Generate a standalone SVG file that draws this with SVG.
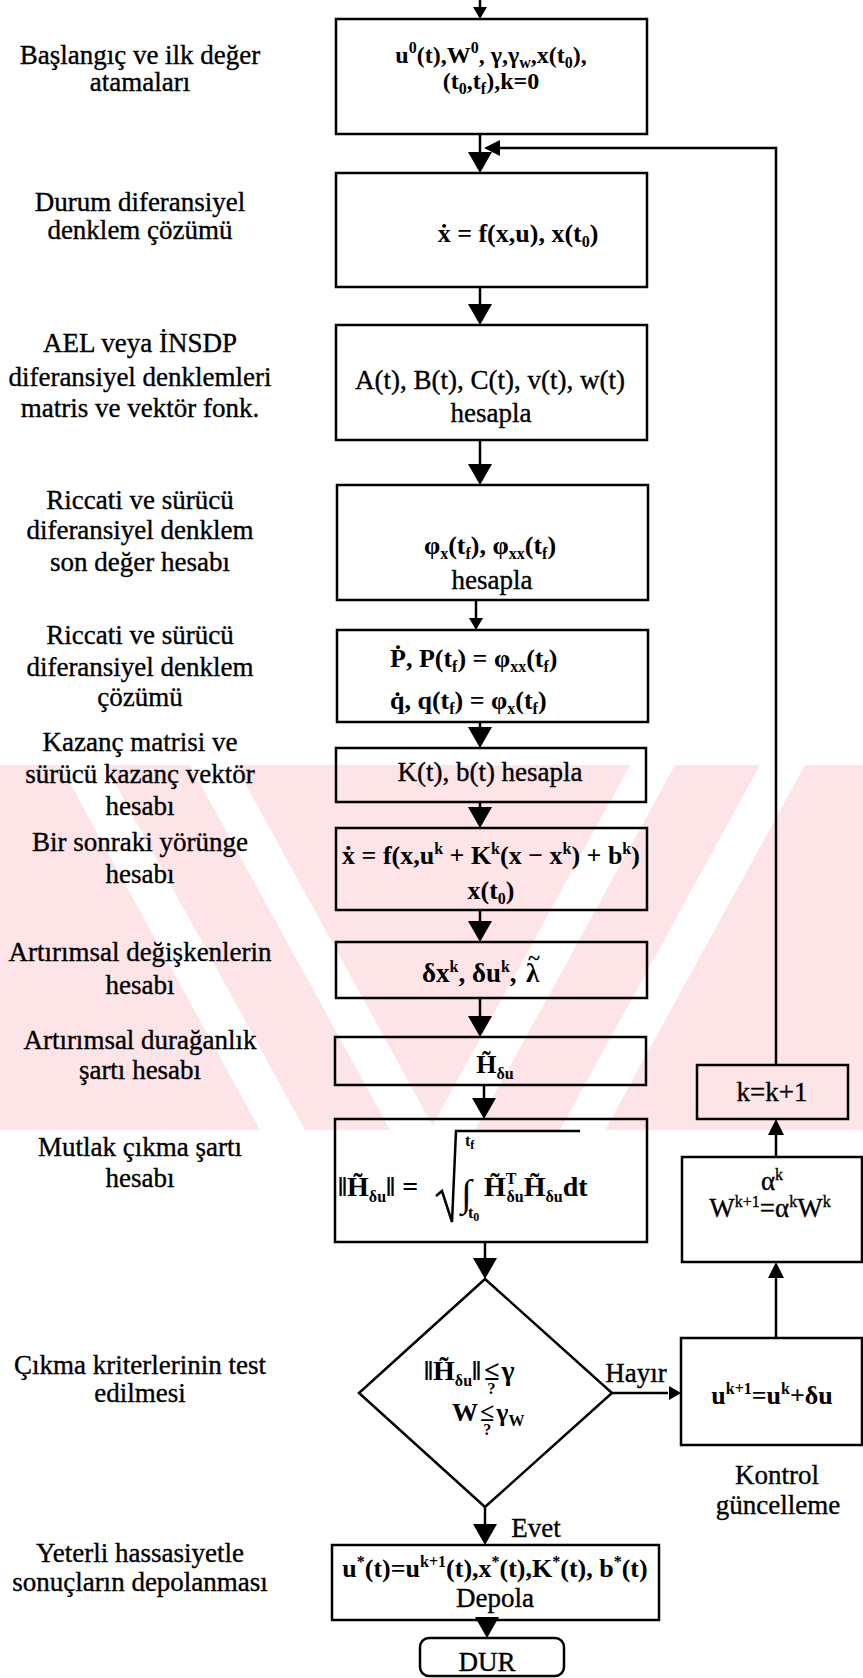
<svg xmlns="http://www.w3.org/2000/svg" width="863" height="1678" viewBox="0 0 863 1678">
<defs>
<style>
text{font-family:"Liberation Serif","Times New Roman",serif;fill:#000}
.lbl{font-size:27px;text-anchor:middle;stroke:#000;stroke-width:0.35}
.t{font-size:27px;text-anchor:middle;stroke:#000;stroke-width:0.35}
.eq{font-size:26px;font-weight:bold;text-anchor:middle}
.st{text-anchor:start}
.s{font-size:16px}
.box{fill:none;stroke:#000;stroke-width:2.5}
.ln{stroke:#000;stroke-width:2.5;fill:none}
.ah{fill:#000}
.wm{fill:#fce4e7}
.wmgap{fill:#fff}
</style>
<path id="ahBig" d="M-12,-21 L12,-21 L0,0 Z"/>
<path id="ahMed" d="M-8,-16 L8,-16 L0,0 Z"/>
<path id="ahSmall" d="M-7,-12 L7,-12 L0,0 Z"/>
<clipPath id="wmClip"><rect x="0" y="765" width="863" height="365"/></clipPath>
</defs>
<rect width="863" height="1678" fill="#fff"/>

<!-- faint background emblem behind the lower-middle steps -->
<g id="watermark" clip-path="url(#wmClip)">
  <rect class="wm" x="0" y="765" width="863" height="365"/>
  <polygon class="wmgap" points="60,765 105,765 305,1130 260,1130"/>
  <polygon class="wmgap" points="190,765 235,765 435,1130 390,1130"/>
  <polygon class="wmgap" points="760,765 805,765 605,1130 560,1130"/>
  <polygon class="wmgap" points="630,765 675,765 475,1130 430,1130"/>
</g>

<!-- connectors -->
<g id="connectors">
  <line class="ln" x1="480" y1="0" x2="480" y2="10"/>
  <use href="#ahSmall" class="ah" x="480" y="19"/>
  <line class="ln" x1="480" y1="134" x2="480" y2="155"/>
  <use href="#ahBig" class="ah" x="480" y="173"/>
  <polyline class="ln" points="776,1065 776,148 498,148"/>
  <use href="#ahMed" class="ah" transform="translate(484,148) rotate(90)"/>
  <line class="ln" x1="480" y1="287" x2="480" y2="306"/>
  <use href="#ahBig" class="ah" x="480" y="325"/>
  <line class="ln" x1="480" y1="440" x2="480" y2="466"/>
  <use href="#ahBig" class="ah" x="480" y="485"/>
  <line class="ln" x1="476" y1="600" x2="476" y2="620"/>
  <use href="#ahSmall" class="ah" x="476" y="630"/>
  <line class="ln" x1="480" y1="722" x2="480" y2="730"/>
  <use href="#ahBig" class="ah" x="480" y="748"/>
  <line class="ln" x1="480" y1="802" x2="480" y2="810"/>
  <use href="#ahBig" class="ah" x="480" y="828"/>
  <line class="ln" x1="480" y1="910" x2="480" y2="924"/>
  <use href="#ahBig" class="ah" x="480" y="942"/>
  <line class="ln" x1="480" y1="998" x2="480" y2="1019"/>
  <use href="#ahBig" class="ah" x="480" y="1037"/>
  <line class="ln" x1="484" y1="1085" x2="484" y2="1101"/>
  <use href="#ahBig" class="ah" x="484" y="1119"/>
  <line class="ln" x1="485" y1="1242" x2="485" y2="1261"/>
  <use href="#ahBig" class="ah" x="485" y="1279"/>
  <line class="ln" x1="612" y1="1393" x2="668" y2="1393"/>
  <use href="#ahSmall" class="ah" transform="translate(681,1393) rotate(-90)"/>
  <line class="ln" x1="776" y1="1338" x2="776" y2="1276"/>
  <use href="#ahMed" class="ah" transform="translate(776,1262) rotate(180)"/>
  <line class="ln" x1="776" y1="1157" x2="776" y2="1133"/>
  <use href="#ahMed" class="ah" transform="translate(776,1119) rotate(180)"/>
  <line class="ln" x1="485" y1="1507" x2="485" y2="1527"/>
  <use href="#ahBig" class="ah" x="485" y="1545"/>
  <line class="ln" x1="487" y1="1620" x2="487" y2="1622"/>
  <use href="#ahBig" class="ah" x="487" y="1638"/>
</g>

<!-- side descriptions -->
<g id="labels">
  <text class="lbl" x="140" y="64">Başlangıç ve ilk değer</text>
  <text class="lbl" x="140" y="91">atamaları</text>
  <text class="lbl" x="140" y="211">Durum diferansiyel</text>
  <text class="lbl" x="140" y="239">denklem çözümü</text>
  <text class="lbl" x="140" y="352">AEL veya İNSDP</text>
  <text class="lbl" x="140" y="386">diferansiyel denklemleri</text>
  <text class="lbl" x="140" y="417">matris ve vektör fonk.</text>
  <text class="lbl" x="140" y="509">Riccati ve sürücü</text>
  <text class="lbl" x="140" y="539">diferansiyel denklem</text>
  <text class="lbl" x="140" y="571">son değer hesabı</text>
  <text class="lbl" x="140" y="644">Riccati ve sürücü</text>
  <text class="lbl" x="140" y="676">diferansiyel denklem</text>
  <text class="lbl" x="140" y="706">çözümü</text>
  <text class="lbl" x="140" y="751">Kazanç matrisi ve</text>
  <text class="lbl" x="140" y="783">sürücü kazanç vektör</text>
  <text class="lbl" x="140" y="815">hesabı</text>
  <text class="lbl" x="140" y="851">Bir sonraki yörünge</text>
  <text class="lbl" x="140" y="883">hesabı</text>
  <text class="lbl" x="140" y="961">Artırımsal değişkenlerin</text>
  <text class="lbl" x="140" y="994">hesabı</text>
  <text class="lbl" x="140" y="1049">Artırımsal durağanlık</text>
  <text class="lbl" x="140" y="1079">şartı hesabı</text>
  <text class="lbl" x="140" y="1156">Mutlak çıkma şartı</text>
  <text class="lbl" x="140" y="1187">hesabı</text>
  <text class="lbl" x="140" y="1374">Çıkma kriterlerinin test</text>
  <text class="lbl" x="140" y="1402">edilmesi</text>
  <text class="lbl" x="140" y="1562">Yeterli hassasiyetle</text>
  <text class="lbl" x="140" y="1591">sonuçların depolanması</text>
  <text class="lbl" x="777" y="1484">Kontrol</text>
  <text class="lbl" x="778" y="1514">güncelleme</text>
  <text class="lbl" x="636" y="1382">Hayır</text>
  <text class="lbl" x="536" y="1537">Evet</text>
</g>

<g id="n-init">
  <rect class="box" x="336" y="19" width="311" height="115"/>
  <text class="eq" style="font-size:24px" x="491" y="63">u<tspan class="s" dy="-10">0</tspan><tspan dy="10">(t),W</tspan><tspan class="s" dy="-10">0</tspan><tspan dy="10">, γ,γ</tspan><tspan class="s" dy="5">w</tspan><tspan dy="-5">,x(t</tspan><tspan class="s" dy="5">0</tspan><tspan dy="-5">),</tspan></text>
  <text class="eq" style="font-size:24px" x="491" y="89">(t<tspan class="s" dy="5">0</tspan><tspan dy="-5">,t</tspan><tspan class="s" dy="5">f</tspan><tspan dy="-5">),k=0</tspan></text>
</g>

<g id="n-state">
  <rect class="box" x="336" y="173" width="311" height="114"/>
  <text class="eq" x="518" y="242">ẋ = f(x,u), x(t<tspan class="s" dy="5">0</tspan><tspan dy="-5">)</tspan></text>
</g>

<g id="n-matrices">
  <rect class="box" x="336" y="325" width="311" height="115"/>
  <text class="t" x="490" y="389">A(t), B(t), C(t), v(t), w(t)</text>
  <text class="t" x="491" y="422">hesapla</text>
</g>

<g id="n-final-value">
  <rect class="box" x="337" y="485" width="311" height="115"/>
  <text class="eq" x="490" y="554">φ<tspan class="s" dy="5">x</tspan><tspan dy="-5">(t</tspan><tspan class="s" dy="5">f</tspan><tspan dy="-5">), φ</tspan><tspan class="s" dy="5">xx</tspan><tspan dy="-5">(t</tspan><tspan class="s" dy="5">f</tspan><tspan dy="-5">)</tspan></text>
  <text class="t" x="492" y="589">hesapla</text>
</g>

<g id="n-riccati">
  <rect class="box" x="337" y="630" width="311" height="92"/>
  <text class="eq st" x="390" y="667">Ṗ, P(t<tspan class="s" dy="5">f</tspan><tspan dy="-5">) = φ</tspan><tspan class="s" dy="5">xx</tspan><tspan dy="-5">(t</tspan><tspan class="s" dy="5">f</tspan><tspan dy="-5">)</tspan></text>
  <text class="eq st" x="390" y="709">q̇, q(t<tspan class="s" dy="5">f</tspan><tspan dy="-5">) = φ</tspan><tspan class="s" dy="5">x</tspan><tspan dy="-5">(t</tspan><tspan class="s" dy="5">f</tspan><tspan dy="-5">)</tspan></text>
</g>

<g id="n-gain">
  <rect class="box" x="336" y="748" width="310" height="54"/>
  <text class="t" x="490" y="781">K(t), b(t) hesapla</text>
</g>

<g id="n-trajectory">
  <rect class="box" x="336" y="828" width="311" height="82"/>
  <text class="eq" x="491" y="864">ẋ = f(x,u<tspan class="s" dy="-10">k</tspan><tspan dy="10"> + K</tspan><tspan class="s" dy="-10">k</tspan><tspan dy="10">(x − x</tspan><tspan class="s" dy="-10">k</tspan><tspan dy="10">) + b</tspan><tspan class="s" dy="-10">k</tspan><tspan dy="10">)</tspan></text>
  <text class="eq" x="491" y="899">x(t<tspan class="s" dy="5">0</tspan><tspan dy="-5">)</tspan></text>
</g>

<g id="n-increments">
  <rect class="box" x="336" y="942" width="311" height="56"/>
  <text class="eq st" style="font-size:27px" x="422" y="982">δx<tspan class="s" dy="-10">k</tspan><tspan dy="10">, δu</tspan><tspan class="s" dy="-10">k</tspan><tspan dy="10">,</tspan><tspan x="526">λ</tspan></text>
  <text class="eq" style="font-size:22px" x="534" y="965">~</text>
</g>

<g id="n-stationarity">
  <rect class="box" x="335" y="1037" width="311" height="48"/>
  <text class="eq" x="495" y="1073">H̃<tspan class="s" dy="6">δu</tspan></text>
</g>

<g id="n-norm">
  <rect class="box" x="335" y="1119" width="312" height="123"/>
  <text class="eq st" style="font-size:28px" x="338" y="1196">‖H̃<tspan class="s" dy="6">δu</tspan><tspan dy="-6">‖ =</tspan></text>
  <path class="ln" d="M436,1196 L442,1191 L452,1222 L456,1131 L580,1131" stroke-width="2"/>
  <text class="eq st" style="font-size:38px" x="461" y="1206">∫</text>
  <text class="eq st s" x="465" y="1146">t<tspan dy="3" style="font-size:12px">f</tspan></text>
  <text class="eq st s" x="468" y="1218">t<tspan dy="3" style="font-size:12px">0</tspan></text>
  <text class="eq st" style="font-size:28px" x="484" y="1196">H̃<tspan class="s" dy="-12">T</tspan><tspan class="s" dx="-10" dy="18">δu</tspan><tspan dy="-6">H̃</tspan><tspan class="s" dy="6">δu</tspan><tspan dy="-6">dt</tspan></text>
</g>

<g id="n-test">
  <polygon class="box" points="485,1279 612,1393 485,1507 359,1393"/>
  <text class="eq st" style="font-size:28px" x="424" y="1380">‖H̃<tspan class="s" dy="6">δu</tspan><tspan dy="-6">‖</tspan><tspan dx="3">≤</tspan><tspan class="s" dx="-12" dy="14">?</tspan><tspan dx="6" dy="-14">γ</tspan></text>
  <text class="eq st" x="452" y="1421">W<tspan dx="2">≤</tspan><tspan class="s" dx="-11" dy="14">?</tspan><tspan dx="5" dy="-14">γ</tspan><tspan class="s" dy="5">W</tspan></text>
</g>

<g id="n-store">
  <rect class="box" x="332" y="1545" width="327" height="75"/>
  <text class="eq" x="495" y="1577">u<tspan class="s" dy="-10">*</tspan><tspan dy="10">(t)=u</tspan><tspan class="s" dy="-10">k+1</tspan><tspan dy="10">(t),x</tspan><tspan class="s" dy="-10">*</tspan><tspan dy="10">(t),K</tspan><tspan class="s" dy="-10">*</tspan><tspan dy="10">(t), b</tspan><tspan class="s" dy="-10">*</tspan><tspan dy="10">(t)</tspan></text>
  <text class="t" x="495" y="1607">Depola</text>
</g>

<g id="n-stop">
  <rect class="box" x="420" y="1638" width="144" height="38" rx="9"/>
  <text class="t" x="487" y="1671">DUR</text>
</g>

<g id="n-control">
  <rect class="box" x="681" y="1338" width="181" height="107"/>
  <text class="eq" x="772" y="1404">u<tspan class="s" dy="-10">k+1</tspan><tspan dy="10">=u</tspan><tspan class="s" dy="-10">k</tspan><tspan dy="10">+δu</tspan></text>
</g>

<g id="n-alpha">
  <rect class="box" x="682" y="1157" width="180" height="105"/>
  <text class="t" x="772" y="1190">α<tspan class="s" dy="-10">k</tspan></text>
  <text class="t" x="770" y="1217">W<tspan class="s" dy="-10">k+1</tspan><tspan dy="10">=α</tspan><tspan class="s" dy="-10">k</tspan><tspan dy="10">W</tspan><tspan class="s" dy="-10">k</tspan></text>
</g>

<g id="n-counter">
  <rect class="box" x="697" y="1065" width="151" height="54"/>
  <text class="t" x="772" y="1101">k=k+1</text>
</g>
</svg>
